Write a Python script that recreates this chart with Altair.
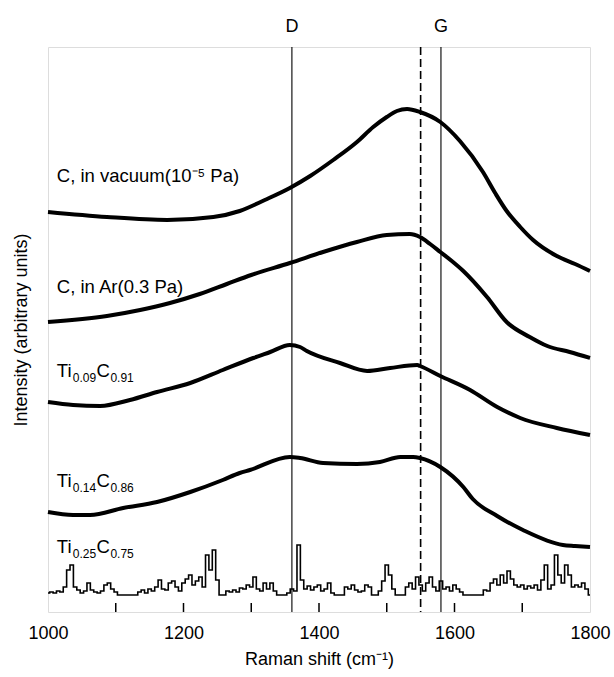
import altair as alt
import pandas as pd

FONT = "Liberation Sans"

# ---- smooth spectra (Raman shift in cm-1, intensity in arbitrary units) ----
wn_vac = [1000, 1087, 1176, 1244, 1283, 1320, 1357, 1387, 1421, 1456, 1480, 1500, 1515,
          1530, 1549, 1579, 1608, 1642, 1660, 1677, 1697, 1716, 1751, 1778, 1800]
int_vac = [400, 395, 392, 395, 401, 412, 424, 436, 452, 470, 485, 495, 501,
           503, 500, 490, 471, 440, 419, 401, 385, 372, 356, 348, 341]

wn_ar = [1000, 1087, 1136, 1180, 1224, 1264, 1300, 1357, 1406, 1456, 1500, 1534, 1549,
         1564, 1579, 1596, 1613, 1648, 1677, 1711, 1737, 1770, 1800]
int_ar = [290, 296, 302, 309, 318, 328, 337, 349, 360, 370, 377, 378, 375,
          368, 360, 351, 341, 315, 290, 275, 266, 260, 254]

wn_ti09 = [1000, 1037, 1077, 1121, 1161, 1210, 1258, 1303, 1328, 1357, 1372, 1382, 1431,
           1471, 1505, 1545, 1549, 1579, 1623, 1663, 1697, 1751, 1800]
int_ti09 = [210, 207, 206, 212, 220, 229, 242, 254, 260, 267, 265, 261, 249,
            241, 244, 247, 246, 236, 222, 205, 194, 184, 177]

wn_ti14 = [1000, 1037, 1062, 1111, 1161, 1210, 1258, 1283, 1298, 1357, 1372, 1406, 1456,
           1490, 1520, 1539, 1549, 1579, 1613, 1627, 1663, 1701, 1760, 1778, 1800]
int_ti14 = [100, 97, 97, 104, 110, 120, 132, 139, 142, 155, 154, 149, 148,
            150, 155, 155, 154, 145, 125, 113, 96, 82, 67, 66, 65]

# ---- noisy spectrum of Ti0.25C0.75 (sampled every 5 cm-1 from 1000 to 1800) ----
wn_ti25 = list(range(1000, 1805, 5))
int_ti25 = [
    19, 20, 19, 21, 20, 25, 42, 47, 25, 22,
    19, 21, 29, 22, 20, 19, 21, 27, 29, 23,
    20, 17, 17, 17, 17, 17, 17, 20, 22, 19,
    23, 21, 25, 32, 23, 22, 29, 31, 25, 21,
    29, 33, 37, 27, 31, 35, 25, 57, 42, 62,
    32, 17, 17, 21, 20, 22, 20, 24, 23, 27,
    25, 35, 23, 21, 29, 23, 29, 21, 17, 17,
    17, 19, 23, 21, 67, 32, 23, 26, 22, 25,
    27, 21, 23, 29, 19, 17, 17, 17, 25, 23,
    27, 22, 20, 21, 27, 25, 17, 17, 21, 31,
    47, 37, 23, 17, 17, 17, 25, 29, 23, 35,
    27, 21, 29, 35, 25, 21, 31, 23, 25, 21,
    27, 23, 20, 17, 17, 17, 17, 17, 17, 22,
    21, 29, 33, 27, 37, 29, 41, 33, 27, 25,
    27, 23, 26, 24, 27, 22, 32, 47, 23, 27,
    57, 37, 29, 47, 37, 25, 27, 25, 29, 23,
    17]

# ---- reference lines, ticks, labels ----
band_wn = [1360, 1580]
band_txt = ["D", "G"]
dashed_wn = [1550]
tick_wn = [1100, 1200, 1300, 1400, 1500, 1600, 1700]
label_values = [1000, 1200, 1400, 1600, 1800]

plain_labels = ["C, in vacuum(10\u207b\u2075 Pa)", "C, in Ar(0.3 Pa)"]
plain_wn = [1013, 1013]
plain_int = [430, 319]

ti_first = ["0.09", "0.14", "0.25"]
ti_second = ["0.91", "0.86", "0.75"]
ti_wn = [1013, 1013, 1013]
ti_int = [235, 125, 59]

W, H = 542, 565


def build(wns, vals, name):
    return pd.DataFrame({"wn": wns, "inten": vals, "series": name})


smooth = pd.concat([
    build(wn_vac, int_vac, "vac"),
    build(wn_ar, int_ar, "ar"),
    build(wn_ti09, int_ti09, "ti09"),
    build(wn_ti14, int_ti14, "ti14"),
])
noise = build(wn_ti25, int_ti25, "ti25")

xscale = alt.Scale(domain=[1000, 1800], nice=False, zero=False)
yscale = alt.Scale(domain=[0, H], nice=False, zero=False)

xenc = alt.X("wn:Q", scale=xscale, axis=alt.Axis(
    values=label_values, format="d", labelFontSize=18, labelFont=FONT,
    labelColor="black", labelPadding=12, labelFlush=False, ticks=False, tickSize=0,
    domain=False, grid=False, title="Raman shift (cm\u207b\u00b9)", titleFontSize=18,
    titleFont=FONT, titleFontWeight="normal", titleColor="black", titlePadding=8))
yenc = alt.Y("inten:Q", scale=yscale, axis=alt.Axis(
    labels=False, ticks=False, domain=False, grid=False,
    title="Intensity (arbitrary units)", titleFontSize=18, titleFont=FONT,
    titleFontWeight="normal", titleColor="black", titlePadding=18))

curves = alt.Chart(smooth).mark_line(
    color="black", strokeWidth=4, interpolate="monotone"
).encode(x=xenc, y=yenc, detail="series:N")

noisy = alt.Chart(noise).mark_line(
    color="black", strokeWidth=1.6, interpolate="step"
).encode(x=xenc, y=yenc)

bands = alt.Chart(pd.DataFrame({"wn": band_wn, "t": band_txt}))
band_rules = bands.mark_rule(color="black", strokeWidth=1.1).encode(x=xenc)
band_text = bands.mark_text(
    font=FONT, fontSize=18, color="black", baseline="alphabetic", align="center"
).encode(x=xenc, y=alt.value(-15), text="t:N")

dashed = alt.Chart(pd.DataFrame({"wn": dashed_wn})).mark_rule(
    color="black", strokeWidth=1.6, strokeDash=[8, 4]
).encode(x=xenc)

ticks = alt.Chart(pd.DataFrame({"wn": tick_wn})).mark_rule(
    color="black", strokeWidth=1.5
).encode(x=xenc, y=alt.value(H), y2=alt.value(H - 9))

BIG, SMALL = 18.5, 12

plain = alt.Chart(pd.DataFrame({"wn": plain_wn, "inten": plain_int, "t": plain_labels})).mark_text(
    font=FONT, fontSize=BIG, color="black", align="left", baseline="alphabetic"
).encode(x=xenc, y=yenc, text="t:N")

ti_df = pd.DataFrame({"wn": ti_wn, "inten": ti_int, "a": ti_first, "b": ti_second,
                      "ti": "Ti", "c": "C"})


# widths (Arial metrics) to chain the subscript pieces
def width(s, size):
    w = {"T": 0.611, "i": 0.222, "C": 0.722, ".": 0.278}
    return sum(w.get(ch, 0.556) for ch in s) * size


dx1 = width("Ti", BIG)
dx2 = dx1 + width("0.00", SMALL)
dx3 = dx2 + width("C", BIG)

tbase = alt.Chart(ti_df)
ti_layers = [
    tbase.mark_text(font=FONT, fontSize=BIG, color="black", align="left",
                    baseline="alphabetic").encode(x=xenc, y=yenc, text="ti:N"),
    tbase.mark_text(font=FONT, fontSize=SMALL, color="black", align="left",
                    baseline="alphabetic", dx=dx1 + 0.5, dy=5).encode(x=xenc, y=yenc, text="a:N"),
    tbase.mark_text(font=FONT, fontSize=BIG, color="black", align="left",
                    baseline="alphabetic", dx=dx2 + 1).encode(x=xenc, y=yenc, text="c:N"),
    tbase.mark_text(font=FONT, fontSize=SMALL, color="black", align="left",
                    baseline="alphabetic", dx=dx3 + 1.5, dy=5).encode(x=xenc, y=yenc, text="b:N"),
]

chart = alt.layer(
    curves, noisy, band_rules, dashed, ticks, band_text, plain, *ti_layers
).properties(
    width=W, height=H,
    autosize=alt.AutoSizeParams(type="none"),
    padding={"left": 48, "top": 47, "right": 24, "bottom": 65},
).configure_view(stroke="black", strokeWidth=1.5).configure(background="white")

chart.save("out.html", embed_options={"renderer": "svg", "actions": False})
